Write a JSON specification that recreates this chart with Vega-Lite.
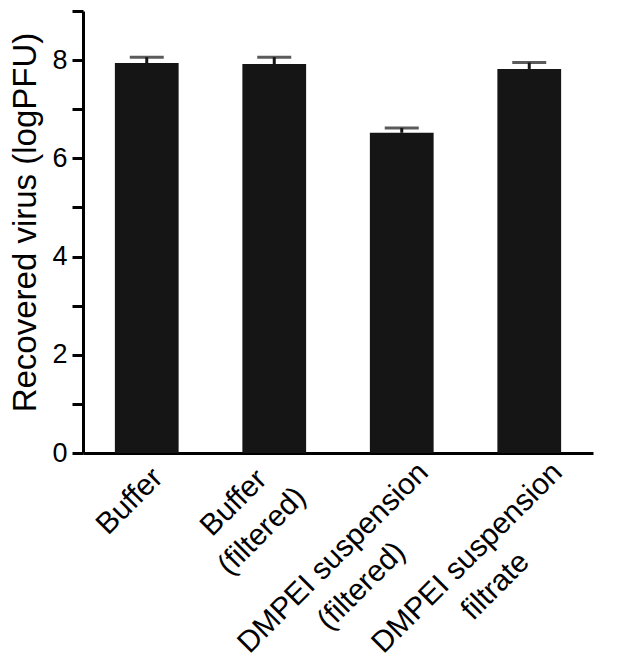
{
  "$schema": "https://vega.github.io/schema/vega-lite/v6.json",
  "width": 510,
  "height": 442,
  "autosize": {"type": "none"},
  "padding": {"left": 83, "top": 11, "right": 36, "bottom": 211},
  "background": "white",
  "config": {
    "view": {"stroke": null},
    "font": "Liberation Sans",
    "axis": {"grid": false, "domainColor": "black", "tickColor": "black", "labelColor": "black", "titleColor": "black", "labelFont": "Liberation Sans", "titleFont": "Liberation Sans", "titleFontWeight": "normal"}
  },
  "data": {
    "values": [
      {"group": "Buffer", "value": 7.94, "upper": 8.06},
      {"group": "Buffer\n(filtered)", "value": 7.92, "upper": 8.06},
      {"group": "DMPEI suspension\n(filtered)", "value": 6.52, "upper": 6.62},
      {"group": "DMPEI suspension\nfiltrate", "value": 7.82, "upper": 7.95}
    ]
  },
  "encoding": {
    "x": {
      "field": "group",
      "type": "nominal",
      "sort": null,
      "scale": {"paddingInner": 0.5, "paddingOuter": 0.25},
      "axis": {
        "title": null,
        "ticks": false,
        "tickSize": 0,
        "domainWidth": 3,
        "labelAngle": -45,
        "labelAlign": "center",
        "labelBaseline": "middle",
        "labelFontSize": 30,
        "labelLineHeight": 40,
        "labelLimit": 0,
        "labelOverlap": false,
        "labelBound": false,
        "labelFlush": false,
        "labelExpr": "split(datum.label, '\\n')",
        "labelOffset": {
          "condition": [
            {"test": "indexof(datum.value,'filtrate')>=0", "value": -62},
            {"test": "indexof(datum.value,'DMPEI')>=0", "value": -68.5},
            {"test": "indexof(datum.value,'filtered')>=0", "value": -40.5}
          ],
          "value": -17
        },
        "labelPadding": {
          "condition": [
            {"test": "indexof(datum.value,'filtrate')>=0", "value": 104.5},
            {"test": "indexof(datum.value,'DMPEI')>=0", "value": 104.5},
            {"test": "indexof(datum.value,'filtered')>=0", "value": 49.5}
          ],
          "value": 48
        }
      }
    }
  },
  "layer": [
    {
      "mark": {"type": "bar", "color": "#151515"},
      "encoding": {
        "y": {
          "field": "value",
          "type": "quantitative",
          "scale": {"domain": [0, 9], "nice": false},
          "axis": {
            "title": "Recovered virus (logPFU)",
            "titleFontSize": 33,
            "titleX": -48,
            "titleY": 211,
            "titleAngle": -90,
            "titleAlign": "center",
            "titleBaseline": "alphabetic",
            "values": [0, 1, 2, 3, 4, 5, 6, 7, 8, 9],
            "labelExpr": "datum.value % 2 == 0 && datum.value < 9 ? datum.label : ''",
            "labelFontSize": 27,
            "labelPadding": 5,
            "tickSize": 11,
            "tickWidth": 3,
            "domainWidth": 3,
            "labelOverlap": false,
            "labelBound": false,
            "labelFlush": false
          }
        }
      }
    },
    {
      "mark": {"type": "rule", "color": "#151515", "strokeWidth": 3},
      "encoding": {
        "y": {"field": "value", "type": "quantitative"},
        "y2": {"field": "upper"}
      }
    },
    {
      "mark": {"type": "tick", "color": "#151515", "size": 34, "thickness": 3},
      "encoding": {
        "y": {"field": "upper", "type": "quantitative"}
      }
    }
  ]
}
